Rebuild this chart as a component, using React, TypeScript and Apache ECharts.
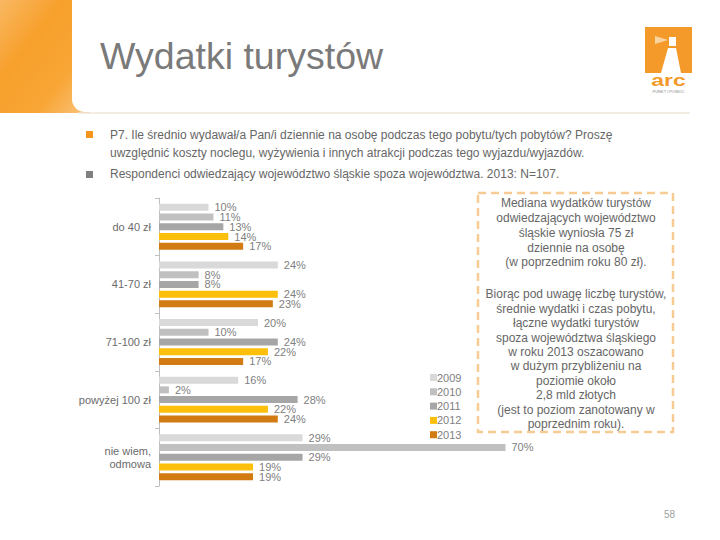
import React, { useEffect, useRef } from "react";
import * as echarts from "echarts";

const categories = ["do 40 zł", "41-70 zł", "71-100 zł", "powyżej 100 zł", "nie wiem,\nodmowa"];
const years = ["2009", "2010", "2011", "2012", "2013"];
const values2009 = [10, 24, 20, 16, 29];
const values2010 = [11, 8, 10, 2, 70];
const values2011 = [13, 8, 24, 28, 29];
const values2012 = [14, 24, 22, 22, 19];
const values2013 = [17, 23, 17, 24, 19];
const seriesValues = [values2009, values2010, values2011, values2012, values2013];
const colors = ["#d9d9d9", "#c0c0c0", "#a6a6a6", "#fbbf0c", "#d27b12"];

const para1 = [
  "Mediana wydatków turystów",
  "odwiedzających województwo",
  "śląskie wyniosła 75 zł",
  "dziennie na osobę",
  "(w poprzednim roku 80 zł).",
];
const para2 = [
  "Biorąc pod uwagę liczbę turystów,",
  "średnie wydatki i czas pobytu,",
  "łączne wydatki turystów",
  "spoza województwa śląskiego",
  "w roku 2013 oszacowano",
  "w dużym przybliżeniu na",
  "poziomie około",
  "2,8 mld złotych",
  "(jest to poziom zanotowany w",
  "poprzednim roku).",
];

const FONT = "Arial, 'Liberation Sans', sans-serif";

export default function App() {
  const ref = useRef<HTMLDivElement>(null);
  useEffect(() => {
    if (!ref.current) return;
    const chart = echarts.init(ref.current, null, { renderer: "svg" });
    const option: any = {
      animation: false,
      backgroundColor: "#ffffff",
      textStyle: { fontFamily: FONT },
      grid: { left: 159, top: 198, width: 495, height: 288, containLabel: false },
      xAxis: { type: "value", min: 0, max: 100, show: false },
      yAxis: {
        type: "category",
        data: categories,
        inverse: true,
        axisLine: { lineStyle: { color: "#bfbfbf", width: 1 } },
        axisTick: { show: true, length: 4, lineStyle: { color: "#bfbfbf" } },
        axisLabel: {
          color: "#6b6b6b",
          fontSize: 11,
          fontFamily: FONT,
          margin: 8,
          lineHeight: 13,
        },
      },
      legend: {
        data: years,
        orient: "vertical",
        left: 425,
        top: 367,
        itemWidth: 7,
        itemHeight: 7,
        itemGap: 3.3,
        icon: "rect",
        textStyle: { color: "#808080", fontSize: 11, fontFamily: FONT, padding: [0, 0, 0, -5] },
      },
      series: years.map((y, i) => ({
        name: y,
        type: "bar",
        data: seriesValues[i],
        barWidth: 7,
        barGap: "39%",
        itemStyle: { color: colors[i] },
        label: {
          show: true,
          position: "right",
          distance: 6,
          formatter: "{c}%",
          color: "#808080",
          fontSize: 11,
          fontFamily: FONT,
        },
      })),
      graphic: [
        {
          type: "rect",
          shape: { x: 0, y: 0, width: 90, height: 113 },
          style: {
            fill: new echarts.graphic.LinearGradient(0, 0, 1, 1, [
              { offset: 0, color: "#f9b862" },
              { offset: 0.35, color: "#f7a02c" },
              { offset: 0.7, color: "#f8a636" },
              { offset: 1, color: "#fbc47f" },
            ]),
          },
          silent: true,
        },
        {
          type: "rect",
          shape: { x: 72, y: -20, width: 700, height: 132, r: [0, 0, 0, 13] },
          style: { fill: "#ffffff" },
          silent: true,
        },
        {
          type: "line",
          shape: { x1: 78, y1: 113, x2: 690, y2: 113 },
          style: { stroke: "#eee6d8", lineWidth: 1.5 },
          silent: true,
        },
        {
          type: "text",
          left: 100,
          top: 37,
          style: { text: "Wydatki turystów", fontSize: 37.5, fontFamily: FONT, fill: "#7a7a7a" },
        },
        {
          type: "rect",
          shape: { x: 645, y: 27, width: 47, height: 46 },
          style: { fill: "#f39a2b" },
        },
        {
          type: "polygon",
          shape: { points: [[668, 48], [676, 48], [681, 73], [661, 73]] },
          style: { fill: "#ffffff" },
        },
        {
          type: "rect",
          shape: { x: 669, y: 37, width: 7, height: 9 },
          style: { fill: "#ffffff" },
        },
        {
          type: "polygon",
          shape: { points: [[668, 40], [655, 36], [655, 44]] },
          style: { fill: "#fbd3a0" },
        },
        {
          type: "text",
          style: {
            x: 668.5,
            y: 80,
            text: "arc",
            align: "center",
            verticalAlign: "middle",
            fontSize: 17,
            fontWeight: "bold",
            fontFamily: FONT,
            fill: "#f39a2b",
          },
          scaleX: 1.35,
          originX: 668.5,
        },
        {
          type: "text",
          style: {
            x: 668.5,
            y: 91,
            text: "PUNKT I POMOC",
            align: "center",
            verticalAlign: "middle",
            fontSize: 4,
            fontFamily: FONT,
            fill: "#888888",
          },
        },
        {
          type: "rect",
          shape: { x: 86, y: 131, width: 7, height: 7 },
          style: { fill: "#f7941d" },
        },
        {
          type: "rect",
          shape: { x: 86, y: 171, width: 7, height: 7 },
          style: { fill: "#808080" },
        },
        {
          type: "text",
          style: {
            x: 110,
            y: 135,
            text: "P7. Ile średnio wydawał/a Pan/i dziennie na osobę podczas tego pobytu/tych pobytów? Proszę",
            verticalAlign: "middle",
            fontSize: 12,
            fontFamily: FONT,
            fill: "#666666",
          },
        },
        {
          type: "text",
          style: {
            x: 110,
            y: 153,
            text: "uwzględnić koszty noclegu, wyżywienia i innych atrakcji podczas tego wyjazdu/wyjazdów.",
            verticalAlign: "middle",
            fontSize: 12,
            fontFamily: FONT,
            fill: "#666666",
          },
        },
        {
          type: "text",
          style: {
            x: 110,
            y: 174,
            text: "Respondenci odwiedzający województwo śląskie spoza województwa. 2013: N=107.",
            verticalAlign: "middle",
            fontSize: 12,
            fontFamily: FONT,
            fill: "#666666",
          },
        },
        {
          type: "rect",
          shape: { x: 478, y: 193, width: 195, height: 239 },
          style: { fill: "none", stroke: "#f7cb94", lineWidth: 2.5, lineDash: [8, 5] },
        },
        {
          type: "text",
          style: {
            x: 576,
            y: 196,
            text: para1.join("\n"),
            align: "center",
            verticalAlign: "top",
            fontSize: 12,
            lineHeight: 14.75,
            fontFamily: FONT,
            fill: "#666666",
          },
        },
        {
          type: "text",
          style: {
            x: 576,
            y: 287,
            text: para2.join("\n"),
            align: "center",
            verticalAlign: "top",
            fontSize: 12,
            lineHeight: 14.45,
            fontFamily: FONT,
            fill: "#666666",
          },
        },
        {
          type: "text",
          left: 664,
          top: 509,
          style: { text: "58", fontSize: 10, fontFamily: FONT, fill: "#a0a0a0" },
        },
      ],
    };
    chart.setOption(option);
    return () => chart.dispose();
  }, []);
  return (
    <div
      ref={ref}
      style={{ position: "absolute", left: 0, top: 0, width: 720, height: 540 }}
    />
  );
}
